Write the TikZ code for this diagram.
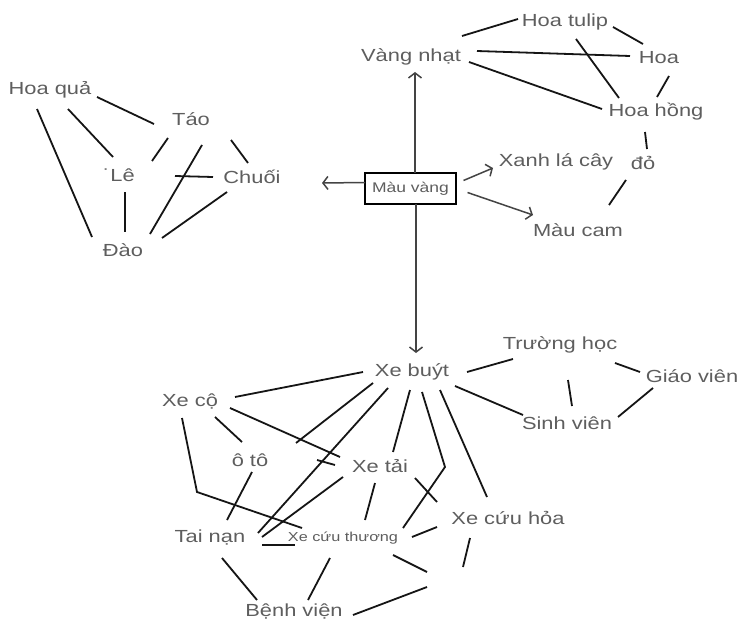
\documentclass[tikz,border=0pt]{standalone}
\usepackage{fontspec}
\setmainfont{Liberation Sans}[FakeStretch=1.25]
\usetikzlibrary{calc,arrows.meta}
\definecolor{txtgray}{HTML}{5E5E5E}
\definecolor{lnblack}{HTML}{151515}
\definecolor{arrgray}{HTML}{444444}
\newcommand\lk[4]{\draw[lk] ($(#1)+(#2)$) -- ($(#3)+(#4)$);}
\begin{document}
\begin{tikzpicture}[x=1pt,y=-1pt,
  txt/.style={text=txtgray, inner sep=0pt, font=\fontsize{17.5}{20}\selectfont, text height=12.5pt, text depth=0pt},
  small/.style={text=txtgray, inner sep=0pt, font=\fontsize{13}{15}\selectfont, text height=9.3pt, text depth=0pt},
  boxed/.style={draw=black, line width=1.7pt, minimum width=91pt, minimum height=31pt, inner sep=0pt, text=txtgray, font=\fontsize{14}{16}\selectfont},
  lk/.style={draw=lnblack, line width=1.8pt},
  arr/.style={draw=arrgray, line width=1.5pt, -{Straight Barb[length=5pt,width=13pt]}}]
\fill[white] (0,0) rectangle (742,626);
\useasboundingbox (0,0) rectangle (742,626);

% fruit group
\node[txt] (hoaqua) at (50,88) {Hoa quả};
\node[txt] (tao) at (191,119) {Táo};
\node[txt] (le) at (119,175) {˙Lê};
\node[txt] (chuoi) at (252,177) {Chuối};
\node[txt] (dao) at (123,250) {Đào};

% colour group
\node[txt] (vangnhat) at (411,55) {Vàng nhạt};
\node[txt] (hoatulip) at (565,20) {Hoa tulip};
\node[txt] (hoa) at (659,57) {Hoa};
\node[txt] (hoahong) at (656,110) {Hoa hồng};
\node[txt] (xanhla) at (556,160) {Xanh lá cây};
\node[txt] (do) at (643,163) {đỏ};
\node[boxed] (mauvang) at (410.5,188.5) {Màu vàng};
\node[txt] (maucam) at (578,230) {Màu cam};

% vehicle group
\node[txt] (xebuyt) at (412,370) {Xe buýt};
\node[txt] (xeco) at (190,400) {Xe cộ};
\node[txt] (oto) at (250,460) {ô tô};
\node[txt] (xetai) at (380,466) {Xe tải};
\node[txt] (tainan) at (210,536) {Tai nạn};
\node[small] (xecuuthuong) at (343,537) {Xe cứu thương};
\node[txt] (benhvien) at (294,610) {Bệnh viện};
\node[txt] (truonghoc) at (560,343) {Trường học};
\node[txt] (giaovien) at (692,376) {Giáo viên};
\node[txt] (sinhvien) at (567,423) {Sinh viên};
\node[txt] (xecuuhoa) at (508,518) {Xe cứu hỏa};

\coordinate (leftend) at (322,183);
\coordinate (bendA) at (197,492);
\coordinate (bendB) at (445,467);
\coordinate (stub1) at (296,443);
\coordinate (e1) at (427,572);
\coordinate (e2) at (427,587);
\coordinate (e3) at (463,567);

% fruit links
\lk{hoaqua}{47,9}{tao}{-37,5}
\lk{hoaqua}{18,21}{le}{-6,-18}
\lk{hoaqua}{-13,21}{dao}{-31,-13}
\lk{tao}{-23,19}{le}{33,-14}
\lk{tao}{40,21}{chuoi}{-4,-14}
\lk{le}{6,17}{dao}{2,-18}
\lk{tao}{11,26}{dao}{27,-16}
\lk{le}{56,1}{chuoi}{-39,0}
\lk{chuoi}{-25,15}{dao}{39,-12}

% colour links
\lk{vangnhat}{51,-19}{hoatulip}{-47,-1}
\lk{vangnhat}{66,-4}{hoa}{-29,-1}
\lk{vangnhat}{58,7}{hoahong}{-54,-1}
\lk{hoatulip}{48,7}{hoa}{-16,-13}
\lk{hoatulip}{11,19}{hoahong}{-37,-12}
\lk{hoa}{10,19}{hoahong}{1,-13}
\lk{hoahong}{-11,22}{do}{4,-14}
\lk{do}{-17,17}{maucam}{31,-25}

% arrows from Mau vang
\draw[arr] ($(mauvang)+(4.5,-15.5)$) -- ($(vangnhat)+(4,17)$);
\draw[arr] ($(mauvang)+(-45.5,-6)$) -- (leftend);
\draw[arr] ($(mauvang)+(53,-8)$) -- ($(xanhla)+(-63,8)$);
\draw[arr] ($(mauvang)+(57,4)$) -- ($(maucam)+(-45,-15)$);
\draw[arr] ($(mauvang)+(5.5,15.5)$) -- ($(xebuyt)+(4,-17)$);

% vehicle links
\lk{xebuyt}{-49,2}{xeco}{45,-3}
\lk{xeco}{40,8}{xetai}{-40,-9}
\lk{xeco}{25,17}{oto}{-8,-18}
\draw[lk] ($(xeco)+(-8,18)$) -- (bendA) -- ($(xecuuthuong)+(-41,-9)$);
\lk{oto}{2,12}{tainan}{17,-16}
\draw[lk] ($(xebuyt)+(-39,13)$) -- (stub1);
\lk{xebuyt}{-24,18}{tainan}{48,-3}
\lk{xebuyt}{-2,20}{xetai}{13,-14}
\draw[lk] ($(xebuyt)+(10,22)$) -- (bendB) -- ($(xecuuthuong)+(60,-9)$);
\lk{xebuyt}{28,20}{xecuuhoa}{-21,-21}
\lk{xebuyt}{55,2}{truonghoc}{-47,16}
\lk{xebuyt}{43,16}{sinhvien}{-44,-8}
\lk{truonghoc}{8,37}{sinhvien}{5,-17}
\lk{truonghoc}{55,20}{giaovien}{-52,-4}
\lk{giaovien}{-39,12}{sinhvien}{51,-6}
\lk{xetai}{-37,11}{tainan}{52,1}
\lk{tainan}{52,9}{xecuuthuong}{-48,8}
\lk{xetai}{-63,-6}{xetai}{-45,-1}
\lk{xetai}{-5,17}{xecuuthuong}{22,-17}
\lk{xetai}{35,12}{xecuuhoa}{-71,-16}
\lk{xecuuthuong}{69,0}{xecuuhoa}{-71,9}
\lk{tainan}{12,22}{benhvien}{-37,-10}
\lk{xecuuthuong}{-13,21}{benhvien}{14,-10}
\draw[lk] ($(xecuuthuong)+(50,18)$) -- (e1);
\draw[lk] ($(benhvien)+(59,5)$) -- (e2);
\draw[lk] ($(xecuuhoa)+(-38,20)$) -- (e3);
\end{tikzpicture}
\end{document}
